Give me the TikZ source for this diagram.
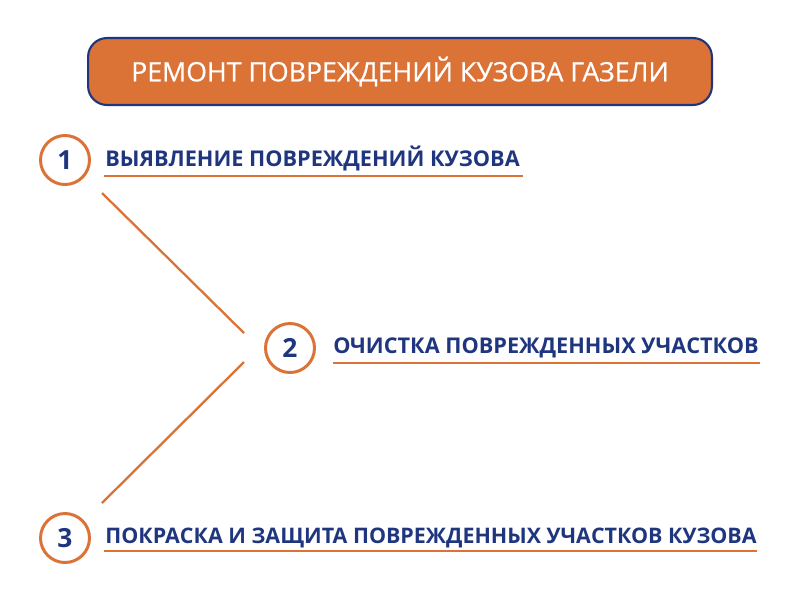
\documentclass[tikz,border=0pt]{standalone}
\usepackage{fontspec}
\setmainfont{Open Sans}
\newfontfamily\titlefont{Open Sans}[FakeBold=0.6]
\usetikzlibrary{positioning}
\definecolor{rust}{HTML}{DB7236}
\definecolor{navy}{HTML}{1F367F}
\begin{document}
\begin{tikzpicture}[x=0.02cm,y=-0.02cm]
\tikzstyle{titlebox} = [draw=navy, line width=1.2pt, fill=rust, rounded corners=0.38cm, minimum width=12.48cm, minimum height=1.34cm, text=white, font=\titlefont\fontsize{15.2}{18}\selectfont] % заголовок
\tikzstyle{numcirc} = [circle, draw=rust, line width=1.7pt, minimum size=0.98cm, inner sep=0pt, text=navy, font=\fontsize{15}{17}\selectfont\bfseries] % номер шага
\tikzstyle{steptext} = [anchor=base west, inner sep=0pt, text=navy, font=\fontsize{12.35}{15}\selectfont\bfseries] % текст шага
\tikzstyle{uline} = [draw=rust, line width=1.6pt] % подчеркивание
\useasboundingbox (0,0) rectangle (800,600);
\node[titlebox] (title) at (400,71.5) {РЕМОНТ ПОВРЕЖДЕНИЙ КУЗОВА ГАЗЕЛИ};
% шаги
\node[numcirc] (c1) at (65,160) {1};
\node[steptext] (t1) at (105,166) {ВЫЯВЛЕНИЕ ПОВРЕЖДЕНИЙ КУЗОВА};
\node[numcirc] (c2) at (290,348) {2};
\node[steptext] (t2) at (333,353) {ОЧИСТКА ПОВРЕЖДЕННЫХ УЧАСТКОВ};
\node[numcirc] (c3) at (65,538) {3};
\node[steptext, font=\fontsize{12.2}{15}\selectfont\bfseries] (t3) at (105,543) {ПОКРАСКА И ЗАЩИТА ПОВРЕЖДЕННЫХ УЧАСТКОВ КУЗОВА};
% подчеркивания
\coordinate (u1a) at (104,176); \coordinate (u1b) at (523,176);
\coordinate (u2a) at (333,363); \coordinate (u2b) at (760,363);
\coordinate (u3a) at (104,551); \coordinate (u3b) at (757,551);
\draw[uline] (u1a) -- (u1b);
\draw[uline] (u2a) -- (u2b);
\draw[uline] (u3a) -- (u3b);
% связи
\coordinate (l1a) at (102,193); \coordinate (l1b) at (244,333);
\coordinate (l2a) at (244,362); \coordinate (l2b) at (102,503);
\draw[uline, line width=1.3pt] (l1a) -- (l1b);
\draw[uline, line width=1.3pt] (l2a) -- (l2b);
\end{tikzpicture}
\end{document}
